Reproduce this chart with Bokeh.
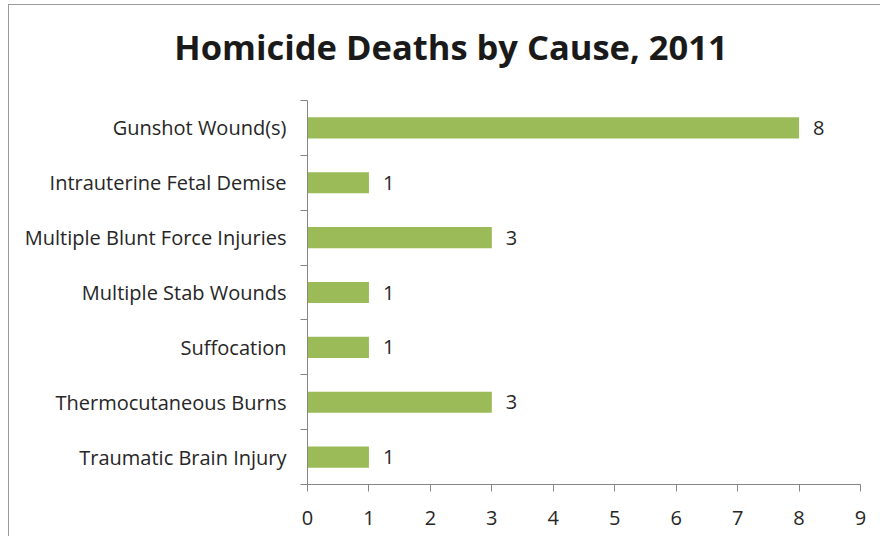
from bokeh.plotting import figure
from bokeh.models import ColumnDataSource, Range1d, FixedTicker, LabelSet, Div
from bokeh.layouts import column
from bokeh.core.properties import value
from bokeh.embed import file_html
from bokeh.resources import INLINE

categories = ["Gunshot Wound(s)", "Intrauterine Fetal Demise", "Multiple Blunt Force Injuries",
              "Multiple Stab Wounds", "Suffocation", "Thermocutaneous Burns", "Traumatic Brain Injury"]
deaths = [8, 1, 3, 1, 1, 3, 1]
x_ticks = [0, 1, 2, 3, 4, 5, 6, 7, 8, 9]
title_text = "Homicide Deaths by Cause, 2011"

n = len(categories)
ypos = [n - i - 0.5 for i in range(n)]
src = ColumnDataSource(dict(y=ypos, v=deaths, lab=[str(d) for d in deaths]))

FONT = "Open Sans"
TXT = "#262626"
AX = "#868686"
W = 870
TH = 80

title = Div(text=title_text, width=W, height=TH,
            styles={"font-family": FONT, "font-weight": "bold", "font-size": "34.5px",
                    "color": "#1a1a1a", "text-align": "center", "line-height": "74px",
                    "padding-left": "4px", "box-sizing": "border-box", "white-space": "nowrap"})

p = figure(width=W, height=441, output_backend="svg", toolbar_location=None, title=None,
           x_range=Range1d(0, 9), y_range=Range1d(0, n),
           min_border_left=298, min_border_right=19, min_border_top=5, min_border_bottom=52)
p.outline_line_color = None
p.grid.grid_line_color = None
p.background_fill_color = "white"
p.border_fill_color = "white"

p.hbar(y="y", right="v", left=0, height=0.385, source=src, fill_color="#9BBB59", line_color=None)

labels = LabelSet(x="v", y="y", text="lab", source=src, x_offset=14, text_baseline="middle",
                  text_font=value(FONT), text_font_size="20px", text_color=TXT)
p.add_layout(labels)

xa = p.xaxis[0]
xa.ticker = FixedTicker(ticks=x_ticks)
xa.axis_line_color = AX
xa.major_tick_line_color = AX
xa.major_tick_in = 0
xa.major_tick_out = 7
xa.minor_tick_line_color = None
xa.major_label_text_font = FONT
xa.major_label_text_font_size = "20px"
xa.major_label_text_color = TXT
xa.major_label_standoff = 19

ya = p.yaxis[0]
ya.ticker = FixedTicker(ticks=ypos, minor_ticks=list(range(n + 1)))
ya.major_label_overrides = {y: c for y, c in zip(ypos, categories)}
ya.axis_line_color = AX
ya.major_tick_line_color = None
ya.minor_tick_line_color = AX
ya.minor_tick_in = 0
ya.minor_tick_out = 7
ya.major_label_text_font = FONT
ya.major_label_text_font_size = "20px"
ya.major_label_text_color = TXT
ya.major_label_standoff = 14

layout = column(title, p, spacing=0)
layout.styles = {"margin-left": "8px", "margin-top": "4px",
                 "border-left": "1px solid #9a9a9a", "border-top": "1px solid #9a9a9a"}

open("out.html", "w").write(file_html(layout, INLINE))
